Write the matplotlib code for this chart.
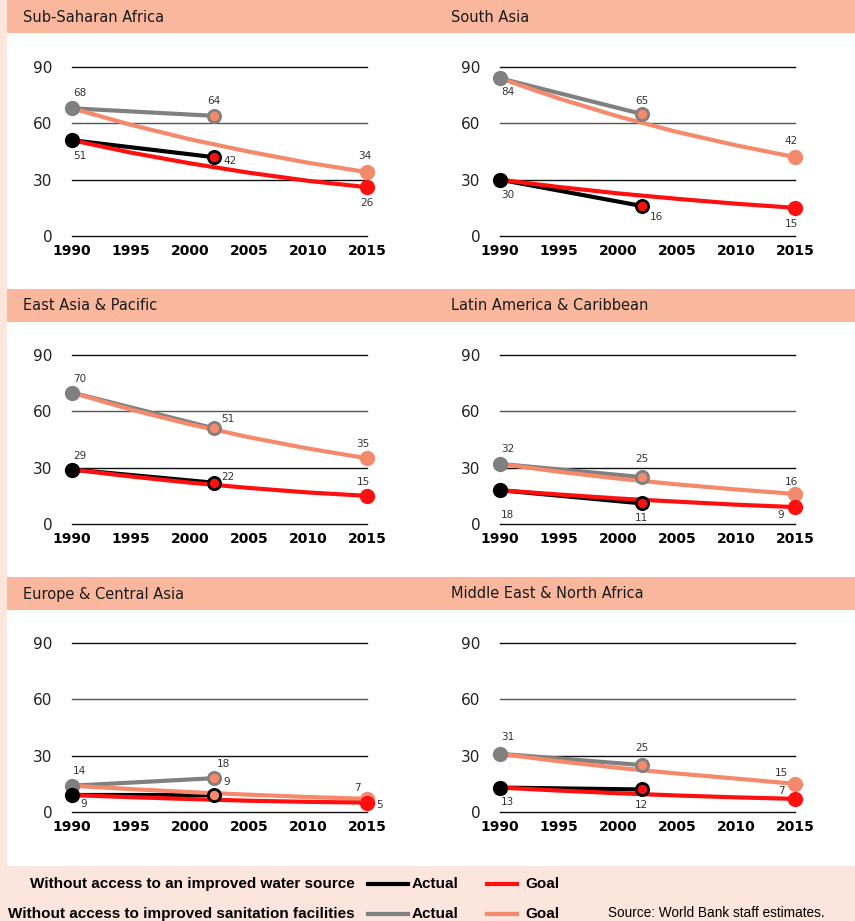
import matplotlib
matplotlib.use("Agg")
import matplotlib.pyplot as plt
from matplotlib.patches import Rectangle
from matplotlib.lines import Line2D

# regions, in reading order (left->right, top->bottom)
regions = ["Sub-Saharan Africa", "South Asia", "East Asia & Pacific",
           "Latin America & Caribbean", "Europe & Central Asia",
           "Middle East & North Africa"]

actual_years = [1990, 2002]
goal_years = [1990, 1995, 2000, 2005, 2010, 2015]
year_ticks = [1990, 1995, 2000, 2005, 2010, 2015]
value_ticks = [0, 30, 60, 90]

# % of people without access to an improved water source
water_actual = [[51, 42], [30, 16], [29, 22], [18, 11], [9, 9], [13, 12]]
water_goal = [[51, 44.4, 38.7, 33.7, 29.4, 26],
              [30, 26.1, 22.7, 19.8, 17.2, 15],
              [29, 25.3, 22.0, 19.2, 16.8, 15],
              [18, 15.7, 13.6, 11.9, 10.3, 9],
              [9, 7.9, 6.9, 6.0, 5.4, 5],
              [13, 11.4, 10.0, 8.8, 7.8, 7]]

# % of people without access to improved sanitation facilities
sanit_actual = [[68, 64], [84, 65], [70, 51], [32, 25], [14, 18], [31, 25]]
sanit_goal = [[68, 59.2, 51.5, 44.9, 39.0, 34],
              [84, 73.2, 63.7, 55.4, 48.3, 42],
              [70, 60.9, 53.1, 46.2, 40.2, 35],
              [32, 27.8, 24.2, 21.1, 18.4, 16],
              [14, 12.2, 10.6, 9.2, 8.0, 7],
              [31, 27.0, 23.5, 20.5, 17.8, 15]]

# label offsets in pixels (dx, dy, ha) for:
# sanit 1990, water 1990, sanit 2002, water 2002, sanit 2015, water 2015
label_pos = [
    [(1, 15, 'left'), (1, -16, 'left'), (0, 15, 'center'), (10, -4, 'left'), (-2, 16, 'center'), (0, -16, 'center')],
    [(1, -14, 'left'), (1, -15, 'left'), (0, 13, 'center'), (8, -11, 'left'), (-4, 16, 'center'), (-4, -16, 'center')],
    [(1, 14, 'left'), (1, 14, 'left'), (8, 9, 'left'), (8, 6, 'left'), (-4, 14, 'center'), (-4, 14, 'center')],
    [(1, 15, 'left'), (1, -25, 'left'), (0, 18, 'center'), (0, -15, 'center'), (-4, 12, 'center'), (-14, -8, 'center')],
    [(1, 15, 'left'), (12, -9, 'center'), (3, 14, 'left'), (10, 13, 'left'), (-10, 11, 'center'), (13, -2, 'center')],
    [(1, 17, 'left'), (1, -14, 'left'), (0, 17, 'center'), (0, -16, 'center'), (-14, 11, 'center'), (-14, 8, 'center')],
]

BLACK = '#000000'
GREY = '#808080'
RED = '#FF1010'
SALMON = '#F4896B'
HEADER = '#F9B89D'
BG = '#FCE5DC'

W, H = 855, 921
fig = plt.figure(figsize=(W / 100, H / 100), dpi=100)
fig.patch.set_facecolor(BG)


def fx(px):
    return px / W


def fy(py):
    return 1 - py / H


def frect(x0, y0, x1, y1, color):
    fig.patches.append(Rectangle((fx(x0), fy(y1)), fx(x1) - fx(x0), fy(y0) - fy(y1),
                                 transform=fig.transFigure, facecolor=color,
                                 edgecolor='none', zorder=-10))


# panel backgrounds and header bands
header_tops = [0, 289, 577]
for r, top in enumerate(header_tops):
    bottom = header_tops[r + 1] if r < 2 else 866
    frect(7, top, W, bottom, 'white')
    frect(7, top, W, top + 33, HEADER)

col_x = [(72, 367), (500, 795)]
row_y = [(67, 236), (355, 524), (643, 812)]
title_x = [23, 451]
px2pt = 0.72

for i, name in enumerate(regions):
    r, c = divmod(i, 2)
    x0, x1 = col_x[c]
    y90, y0 = row_y[r]
    fig.text(fx(title_x[c]), fy(header_tops[r] + 17), name, fontsize=10.5,
             color='#1a1a1a', ha='left', va='center', family='DejaVu Sans')

    ax = fig.add_axes([fx(x0), fy(y0), fx(x1) - fx(x0), fy(y90) - fy(y0)])
    ax.set_facecolor('none')
    ax.set_xlim(1990, 2015)
    ax.set_ylim(0, 90)
    for s in ax.spines.values():
        s.set_visible(False)
    ax.set_xticks(year_ticks)
    ax.set_xticklabels([str(y) for y in year_ticks], fontsize=10, fontweight='heavy')
    ax.set_yticks(value_ticks)
    ax.set_yticklabels([str(v) for v in value_ticks], fontsize=11, color='#222222')
    ax.tick_params(length=0, axis='x', pad=6)
    ax.tick_params(length=0, axis='y', pad=14)
    for v in value_ticks:
        ax.axhline(v, color='#555555' if v == 60 else '#111111', lw=1.0, zorder=1,
                   clip_on=False)

    # lines
    ax.plot(actual_years, sanit_actual[i], color=GREY, lw=3, zorder=2, solid_capstyle='round')
    ax.plot(actual_years, water_actual[i], color=BLACK, lw=3, zorder=2, solid_capstyle='round')
    ax.plot(goal_years, sanit_goal[i], color=SALMON, lw=3, zorder=3)
    ax.plot(goal_years, water_goal[i], color=RED, lw=3, zorder=3)

    # markers
    ms = 11
    ax.plot(1990, sanit_actual[i][0], 'o', ms=ms, color=GREY, mec='none', zorder=5, clip_on=False)
    ax.plot(1990, water_actual[i][0], 'o', ms=ms, color=BLACK, mec='none', zorder=5, clip_on=False)
    ax.plot(2002, sanit_actual[i][1], 'o', ms=8.8, mfc=SALMON, mec=GREY, mew=2.0, zorder=5, clip_on=False)
    mid_face = SALMON if name == "Europe & Central Asia" else RED
    ax.plot(2002, water_actual[i][1], 'o', ms=8.8, mfc=mid_face, mec=BLACK, mew=2.0, zorder=6, clip_on=False)
    ax.plot(2015, sanit_goal[i][-1], 'o', ms=ms, color=SALMON, mec='none', zorder=5, clip_on=False)
    ax.plot(2015, water_goal[i][-1], 'o', ms=ms, color=RED, mec='none', zorder=6, clip_on=False)

    points = [(1990, sanit_actual[i][0]), (1990, water_actual[i][0]),
              (2002, sanit_actual[i][1]), (2002, water_actual[i][1]),
              (2015, sanit_goal[i][-1]), (2015, water_goal[i][-1])]
    for (x, y), (dx, dy, ha) in zip(points, label_pos[i]):
        ax.annotate(str(int(round(y))), (x, y), xytext=(dx * px2pt, dy * px2pt),
                    textcoords='offset points', ha=ha, va='center',
                    fontsize=7.5, color='#333333', zorder=7, annotation_clip=False)

# legend
leg_font = 'Liberation Sans'
rows = [(884, "Without access to an improved water source", BLACK, RED),
        (914, "Without access to improved sanitation facilities", GREY, SALMON)]
for y, label, c_act, c_goal in rows:
    fig.text(fx(355), fy(y), label, ha='right', va='center', fontsize=11,
             fontweight='bold', family=leg_font)
    fig.lines.append(Line2D([fx(368), fx(408)], [fy(y), fy(y)], color=c_act, lw=3,
                            transform=fig.transFigure))
    fig.text(fx(412), fy(y), "Actual", ha='left', va='center', fontsize=11,
             fontweight='bold', family=leg_font)
    fig.lines.append(Line2D([fx(487), fx(517)], [fy(y), fy(y)], color=c_goal, lw=3,
                            transform=fig.transFigure))
    fig.text(fx(525), fy(y), "Goal", ha='left', va='center', fontsize=11,
             fontweight='bold', family=leg_font)

fig.text(fx(608), fy(913), "Source: World Bank staff estimates.", ha='left', va='center',
         fontsize=9.8, family=leg_font)

fig.savefig("out.png", dpi=100, facecolor=fig.get_facecolor())
